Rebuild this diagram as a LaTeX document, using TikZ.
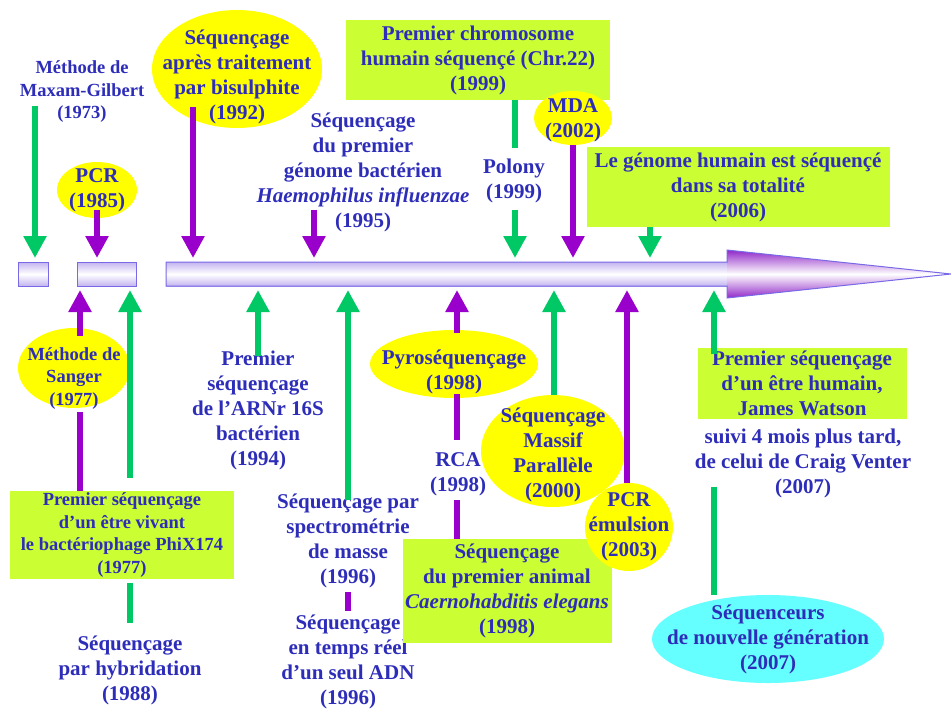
\documentclass[tikz,border=0pt]{standalone}
\usepackage{fontspec}
\setmainfont{Liberation Serif}
\usetikzlibrary{arrows.meta,shapes.geometric}
\definecolor{vertfl}{RGB}{0,200,100}
\definecolor{violetfl}{RGB}{153,0,204}
\definecolor{jaune}{RGB}{255,255,0}
\definecolor{citron}{RGB}{204,255,51}
\definecolor{cyanclair}{RGB}{102,255,255}
\definecolor{encre}{RGB}{45,45,185}
\definecolor{bord}{RGB}{120,105,230}
\definecolor{lavande}{RGB}{195,180,240}
\definecolor{pourpre}{RGB}{145,40,200}
\newcommand\abaisse[1]{\rule{0pt}{#1}}
\begin{document}
\begin{tikzpicture}[x=1pt,y=-1pt,
    txt/.style={align=center,text=encre,inner sep=0pt,
      font=\bfseries\fontsize{21}{25}\selectfont},
    petit/.style={font=\bfseries\fontsize{18.5}{22.5}\selectfont},
    bulle/.style={txt,ellipse,fill=jaune,inner sep=-30pt},
    cadre/.style={txt,rectangle,fill=citron},
    vfl/.style={vertfl,line width=6pt,-{Triangle[width=22pt,length=22pt]}},
    pfl/.style={violetfl,line width=6pt,-{Triangle[width=22pt,length=22pt]}},
    vtrait/.style={vertfl,line width=6pt},
    ptrait/.style={violetfl,line width=6pt},
    frise/.style={top color=lavande,bottom color=lavande,middle color=white}]
  \useasboundingbox (0,0) rectangle (951,710);
  \shadedraw[frise,draw=bord,line width=1pt] (18,262) rectangle (48,286);
  \shadedraw[frise,draw=bord,line width=1pt] (77,262) rectangle (136,286);
  \shade[frise] (166,262) rectangle (728,286);
  \shade[top color=pourpre,bottom color=pourpre,middle color=white]
    (727,250) -- (951,274) -- (727,298) -- cycle;
  \draw[bord,line width=1pt]
    (166,262) -- (727,262) -- (727,250) -- (951,274) -- (727,298) -- (727,286) -- (166,286) -- cycle;

  \coordinate (h1) at (35,258);
  \coordinate (h2) at (97,258);
  \coordinate (h3) at (193,258);
  \coordinate (h4) at (314,258);
  \coordinate (h5) at (515,258);
  \coordinate (h6) at (573,258);
  \coordinate (h7) at (650,258);
  \coordinate (b1) at (80,290);
  \coordinate (b2) at (130,290);
  \coordinate (b3) at (258,290);
  \coordinate (b4) at (348,290);
  \coordinate (b5) at (457,290);
  \coordinate (b6) at (554,290);
  \coordinate (b7) at (627,290);
  \coordinate (b8) at (714,290);

  \node[txt,petit] (maxam) at (82,92) {Méthode de\\Maxam-Gilbert\\(1973)};
  \node[bulle,minimum width=80pt,minimum height=56pt] (pcr) at (97,190) {PCR\\(1985)};
  \node[bulle,minimum width=170pt,minimum height=118pt] (bisulfite) at (237,69)
    {\abaisse{31pt}Séquençage\\après traitement\\par bisulphite\\(1992)};
  \node[txt] (haemo) at (363,172)
    {Séquençage\\du premier\\génome bactérien\\\textit{Haemophilus influenzae}\\(1995)};
  \node[cadre,minimum width=264pt,minimum height=80pt] (chr) at (478,60)
    {Premier chromosome\\humain séquençé (Chr.22)\\(1999)};
  \node[txt] (polony) at (514,181) {Polony\\(1999)};
  \node[bulle,minimum width=78pt,minimum height=54pt] (mda) at (573,118)
    {\abaisse{19pt}MDA\\(2002)};
  \node[cadre,minimum width=303pt,minimum height=80pt] (genome) at (738,187)
    {Le génome humain est séquençé\\dans sa totalité\\(2006)};

  \node[bulle,petit,minimum width=112pt,minimum height=80pt] (sanger) at (74,368)
    {\abaisse{33pt}Méthode de\\Sanger\\(1977)};
  \node[cadre,petit,minimum width=224pt,minimum height=88pt] (phix) at (122,535)
    {Premier séquençage\\d’un être vivant\\le bactériophage PhiX174\\(1977)};
  \node[txt] (hybrid) at (130,670) {Séquençage\\par hybridation\\(1988)};
  \node[txt] (arnr) at (258,410) {Premier\\séquençage\\de l’ARNr 16S\\bactérien\\(1994)};
  \node[txt] (spectro) at (348,541) {Séquençage par\\spectrométrie\\de masse\\(1996)};
  \node[txt] (tempsreel) at (348,662) {Séquençage\\en temps réel\\d’un seul ADN\\(1996)};
  \node[bulle,minimum width=168pt,minimum height=68pt] (pyro) at (454,364)
    {\abaisse{31pt}Pyroséquençage\\(1998)};
  \node[txt] (rca) at (458,474) {RCA\\(1998)};
  \node[cadre,minimum width=209pt,minimum height=104pt] (caeno) at (507,591)
    {Séquençage\\du premier animal\\\textit{Caernohabditis elegans}\\(1998)};
  \node[bulle,minimum width=144pt,minimum height=112pt] (massif) at (553,451)
    {\abaisse{23pt}Séquençage\\Massif\\Parallèle\\(2000)};
  \node[bulle,minimum width=88pt,minimum height=88pt] (emulsion) at (629,527)
    {PCR\\émulsion\\(2003)};
  \node[cadre,minimum width=209pt,minimum height=71pt] (watson) at (802,383)
    {Premier séquençage\\d’un être humain,\\James Watson};
  \node[txt] (venter) at (803,463) {suivi 4 mois plus tard,\\de celui de Craig Venter\\(2007)};
  \node[bulle,fill=cyanclair,minimum width=232pt,minimum height=88pt] (ngs) at (768,639)
    {Séquenceurs\\de nouvelle génération\\(2007)};

  \begin{scope}[vfl]
    \draw[shorten <=-17pt] (maxam.south -| h1) -- (h1);
    \draw[shorten <=7pt] (polony.south -| h5) -- (h5);
    \draw (genome.south -| h7) -- (h7);
    \draw[shorten <=13pt] (phix.north -| b2) -- (b2);
    \draw[shorten <=-6pt] (arnr.north -| b3) -- (b3);
    \draw[shorten <=-6pt] (spectro.north -| b4) -- (b4);
    \draw (massif.north -| b6) -- (b6);
    \draw[shorten <=-7pt] (watson.north -| b8) -- (b8);
  \end{scope}
  \begin{scope}[pfl]
    \draw[shorten <=-8pt] (pcr.south -| h2) -- (h2);
    \draw[shorten <=-21pt] (bisulfite.south -| h3) -- (h3);
    \draw[shorten <=-22pt] (haemo.south -| h4) -- (h4);
    \draw (mda.south -| h6) -- (h6);
    \draw[shorten <=-8pt] (sanger.north -| b1) -- (b1);
    \draw[shorten <=-3pt] (pyro.north -| b5) -- (b5);
    \draw (emulsion.north -| b7) -- (b7);
  \end{scope}
  \begin{scope}[vtrait]
    \draw[shorten >=11pt] (chr.south -| h5) -- (polony.north -| h5);
    \draw[shorten <=4pt,shorten >=12pt] (phix.south -| b2) -- (hybrid.north -| b2);
    \draw[shorten <=-11pt] (venter.south -| b8) -- (ngs.north -| b8);
  \end{scope}
  \begin{scope}[ptrait]
    \draw[shorten <=4pt] (sanger.south -| b1) -- (phix.north -| b1);
    \draw[shorten <=4pt,shorten >=4pt] (spectro.south -| b4) -- (tempsreel.north -| b4);
    \draw[shorten <=-4pt,shorten >=12pt] (pyro.south -| b5) -- (rca.north -| b5);
    \draw[shorten <=4pt] (rca.south -| b5) -- (caeno.north -| b5);
  \end{scope}
\end{tikzpicture}
\end{document}
